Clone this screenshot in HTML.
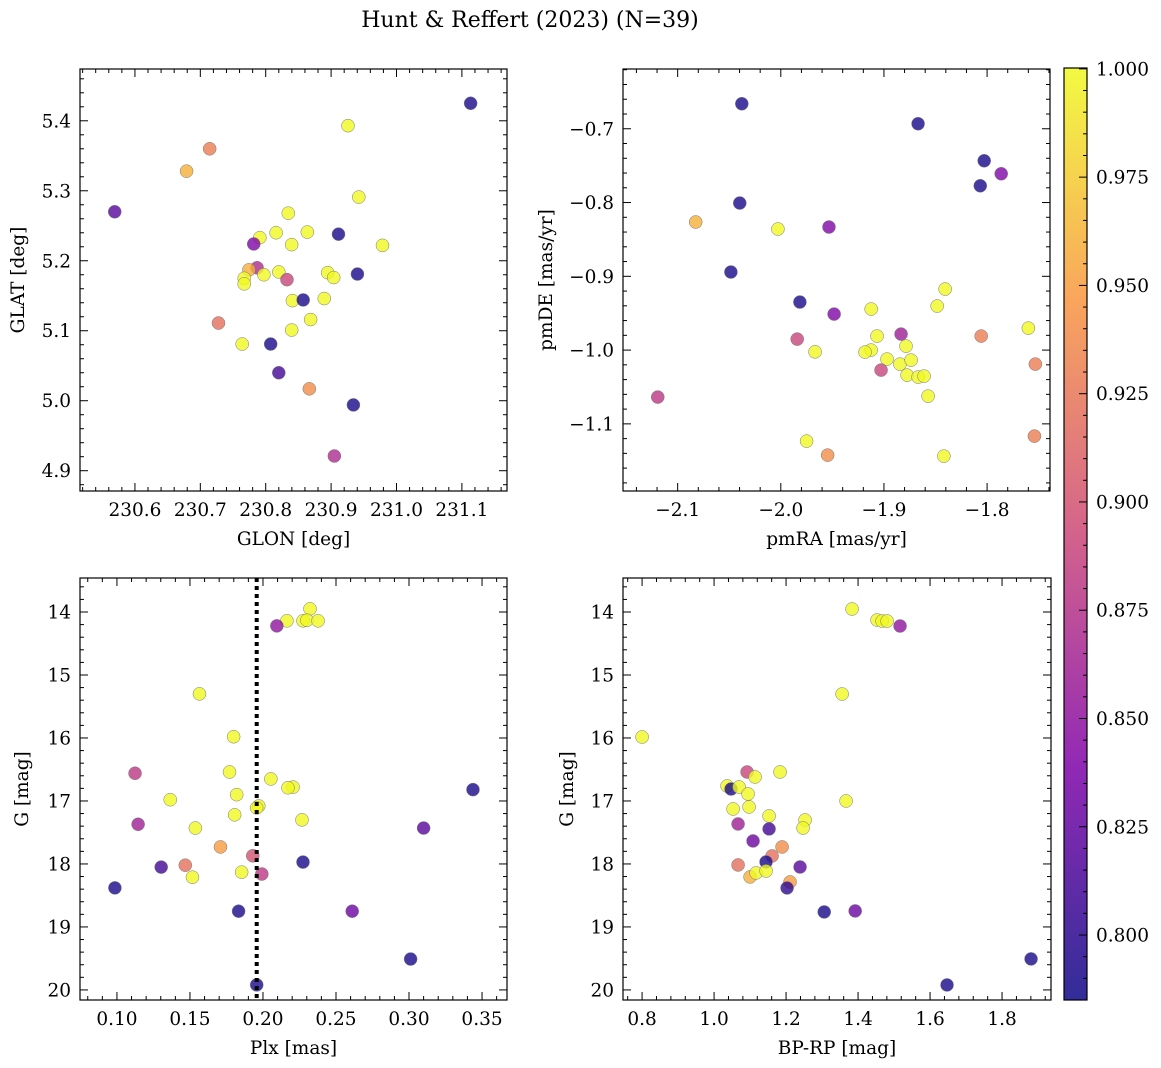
<!DOCTYPE html>
<html><head><meta charset="utf-8"><style>
body{margin:0;background:#fff;}
svg{display:block;font-family:"DejaVu Serif","Liberation Serif",serif;}
</style></head><body>
<svg id="c" width="1161" height="1068" xmlns="http://www.w3.org/2000/svg">
<defs><linearGradient id="plasma" x1="0" y1="1" x2="0" y2="0">
<stop offset="0" stop-color="#0d0887"/><stop offset="0.25" stop-color="#7e03a8"/><stop offset="0.5" stop-color="#cc4778"/><stop offset="0.75" stop-color="#f89540"/><stop offset="1" stop-color="#f0f921"/></linearGradient></defs>
<text x="530" y="27" font-size="22" text-anchor="middle">Hunt &amp; Reffert (2023) (N=39)</text>
</svg>
<script>
// Panel 1: GLON / GLAT
const p1x=[231.1134,230.5691,230.7143,230.679,230.9258,230.9424,230.9786,230.9113,230.9403,230.8345,230.8636,230.8159,230.791,230.7817,230.8397,230.7868,230.7744,230.7972,230.82,230.7671,230.7671,230.8325,230.8947,230.904,230.8408,230.8573,230.8895,230.8687,230.8397,230.7278,230.764,230.8076,230.82,230.8667,230.9341,230.905];
const p1y=[5.425,5.270,5.360,5.328,5.393,5.291,5.222,5.238,5.181,5.268,5.241,5.240,5.233,5.224,5.223,5.190,5.187,5.180,5.184,5.175,5.167,5.173,5.183,5.176,5.143,5.144,5.146,5.116,5.101,5.111,5.081,5.081,5.040,5.017,4.994,4.921];
const p1c=[0.79,0.82,0.93,0.96,1,1,1,0.79,0.79,1,1,1,1,0.84,1,0.87,0.96,1,1,1,1,0.89,1,1,1,0.79,1,1,1,0.92,1,0.79,0.81,0.94,0.79,0.87];
// Panel 2: pmRA / pmDE
const p2x=[-2.0378,-1.8669,-1.8028,-1.8066,-1.7863,-2.0398,-2.0825,-2.0028,-1.9533,-2.0484,-1.9815,-1.8407,-1.8484,-1.9124,-1.9668,-1.9483,-1.7600,-1.8057,-1.9841,-1.8834,-1.9067,-1.9125,-1.9183,-1.8786,-1.8970,-1.8845,-1.8737,-1.9028,-1.8776,-1.8669,-1.8611,-1.8572,-1.7532,-2.1193,-1.7541,-1.9750,-1.9546,-1.8419];
const p2y=[-0.6661,-0.6932,-0.7434,-0.7773,-0.7610,-0.8007,-0.8264,-0.8359,-0.8332,-0.8942,-0.9349,-0.9173,-0.9403,-0.9444,-1.0024,-0.9512,-0.9702,-0.9810,-0.9851,-0.9783,-0.9810,-1.0000,-1.0027,-0.9946,-1.0122,-1.0190,-1.0136,-1.0271,-1.0339,-1.0366,-1.0353,-1.0624,-1.0190,-1.0637,-1.1166,-1.1234,-1.1424,-1.1437];
const p2c=[0.79,0.79,0.79,0.79,0.84,0.79,0.96,1,0.84,0.79,0.79,1,1,1,1,0.84,1,0.93,0.89,0.86,1,1,1,1,1,1,1,0.89,1,1,1,1,0.93,0.88,0.93,1,0.94,1];
// Panel 3: Plx / G
const p3x=[0.2322,0.2164,0.2274,0.2301,0.2377,0.2095,0.1565,0.1799,0.1124,0.1771,0.2054,0.2206,0.2171,0.3438,0.1365,0.1820,0.1971,0.1806,0.1957,0.2267,0.1145,0.1537,0.3100,0.1709,0.1930,0.2274,0.1303,0.1468,0.1517,0.1854,0.1992,0.0986,0.1833,0.2611,0.3011,0.1957];
const p3y=[13.95,14.14,14.14,14.13,14.14,14.22,15.30,15.98,16.56,16.54,16.65,16.78,16.79,16.82,16.98,16.90,17.08,17.22,17.11,17.30,17.37,17.43,17.43,17.73,17.87,17.97,18.05,18.02,18.21,18.13,18.16,18.38,18.75,18.75,19.51,19.92];
const p3c=[1,1,1,1,1,0.85,1,1,0.88,1,1,1,1,0.79,1,1,1,1,1,1,0.86,1,0.82,0.95,0.9,0.79,0.81,0.92,1,1,0.88,0.79,0.79,0.83,0.79,0.79];
// Panel 4: BP-RP / G
const p4x=[1.0917,1.1139,1.1833,1.0361,1.0472,1.0694,1.0944,1.0972,1.0528,1.1528,1.2528,1.2472,1.0667,1.1528,1.1083,1.1889,1.1611,1.1444,1.2389,1.0667,1.1000,1.1167,1.1444,1.2111,1.2028,1.3060,1.3833,1.4528,1.4667,1.4806,1.5167,1.3556,0.8000,1.3667,1.3920,1.8806,1.6472];
const p4y=[16.540,16.619,16.540,16.762,16.810,16.778,16.889,17.095,17.127,17.238,17.302,17.429,17.365,17.444,17.635,17.730,17.873,17.968,18.048,18.016,18.206,18.143,18.111,18.286,18.381,18.762,13.952,14.127,14.143,14.143,14.222,15.302,15.984,17.000,18.746,19.508,19.921];
const p4c=[0.89,1,1,1,0.79,1,1,1,1,1,1,1,0.86,0.81,0.83,0.94,0.92,0.79,0.82,0.92,0.96,1,1,0.95,0.8,0.79,1,1,1,1,0.85,1,1,1,0.83,0.79,0.79];
const plxLine=0.1957;
const cbTicks=[0.800,0.825,0.850,0.875,0.900,0.925,0.950,0.975,1.000];

const NS="http://www.w3.org/2000/svg";
const svg=document.getElementById('c');
function mk(tag,attrs,parent){const e=document.createElementNS(NS,tag);for(const k in attrs)e.setAttribute(k,attrs[k]);(parent||svg).appendChild(e);return e;}
const stops=[[0,[13,8,135]],[0.25,[126,3,168]],[0.5,[204,71,120]],[0.75,[248,149,64]],[1,[240,249,33]]];
const cmin=0.785,cmax=1.0;
function cmap(v){let t=(v-cmin)/(cmax-cmin);t=Math.max(0,Math.min(1,t));for(let i=0;i<stops.length-1;i++){const a=stops[i],b=stops[i+1];if(t<=b[0]){const f=(t-a[0])/(b[0]-a[0]);return 'rgb('+a[1].map((c,j)=>Math.round(c+(b[1][j]-c)*f)).join(',')+')';}}return 'rgb(240,249,33)';}
function fmt(v,d){return (v<-1e-9?'\u2212':'')+Math.abs(v).toFixed(d);}
const FS=18.5;

function panel(o){
  const g=mk('g',{});
  
  
  const sx=v=>o.L+(v-o.x0)/(o.x1-o.x0)*(o.R-o.L);
  const sy=v=>o.T+(v-o.y0)/(o.y1-o.y0)*(o.B-o.T);
  for(let i=0;i<o.xs.length;i++){
    const c=mk('circle',{cx:sx(o.xs[i]),cy:sy(o.ys[i]),r:6.5,fill:cmap(o.cs[i]),'fill-opacity':0.8,stroke:'#777','stroke-width':0.5},g);
    
    
  }
  if(o.vline!==undefined){
    const l=mk('line',{x1:sx(o.vline),x2:sx(o.vline),y1:o.T,y2:o.B,stroke:'#000','stroke-width':4,'stroke-dasharray':'4,4'},g);
    
    
  }
  const fr=mk('rect',{x:o.L,y:o.T,width:o.R-o.L,height:o.B-o.T,fill:'none',stroke:'#000','stroke-width':1.2},g);
  
  
  const lo=Math.min(o.x0,o.x1),hi=Math.max(o.x0,o.x1);
  for(let k=Math.ceil(lo/o.xmin-1e-6);k*o.xmin<=hi+1e-9;k++){
    const v=k*o.xmin,X=sx(v);const maj=Math.abs(v/o.xmaj-Math.round(v/o.xmaj))<1e-6;const len=maj?8:4;
    mk('line',{x1:X,x2:X,y1:o.B,y2:o.B-len,stroke:'#000'},g);mk('line',{x1:X,x2:X,y1:o.T,y2:o.T+len,stroke:'#000'},g);
    if(maj){const t=mk('text',{x:X,y:o.B+25,'font-size':FS,'text-anchor':'middle'},g);t.textContent=fmt(v,o.xd);
      }
  }
  const ylo=Math.min(o.y0,o.y1),yhi=Math.max(o.y0,o.y1);
  for(let k=Math.ceil(ylo/o.ymin-1e-6);k*o.ymin<=yhi+1e-9;k++){
    const v=k*o.ymin,Y=sy(v);const maj=Math.abs(v/o.ymaj-Math.round(v/o.ymaj))<1e-6;const len=maj?8:4;
    mk('line',{x1:o.L,x2:o.L+len,y1:Y,y2:Y,stroke:'#000'},g);mk('line',{x1:o.R,x2:o.R-len,y1:Y,y2:Y,stroke:'#000'},g);
    if(maj){const t=mk('text',{x:o.L-9,y:Y+6.5,'font-size':FS,'text-anchor':'end'},g);t.textContent=fmt(v,o.yd);
      }
  }
  const xl=mk('text',{x:(o.L+o.R)/2,y:o.B+54,'font-size':FS,'text-anchor':'middle'},g);xl.textContent=o.xlab;
  
  const yl=mk('text',{x:0,y:0,'font-size':FS,'text-anchor':'middle',transform:'translate('+o.ylx+','+((o.T+o.B)/2)+') rotate(-90)'},g);yl.textContent=o.ylab;
  
}
panel({name:'glon-glat-panel',L:80,R:507,T:69,B:491,x0:230.516,x1:231.169,y0:5.474,y1:4.871,xs:p1x,ys:p1y,cs:p1c,xmaj:0.1,xmin:0.02,ymaj:0.1,ymin:0.02,xd:1,yd:1,xlab:'GLON [deg]',ylab:'GLAT [deg]',ylx:24});
panel({name:'proper-motion-panel',L:623,R:1050,T:69,B:491,x0:-2.153,x1:-1.739,y0:-0.619,y1:-1.191,xs:p2x,ys:p2y,cs:p2c,xmaj:0.1,xmin:0.02,ymaj:0.1,ymin:0.02,xd:1,yd:1,xlab:'pmRA [mas/yr]',ylab:'pmDE [mas/yr]',ylx:552});
panel({name:'parallax-magnitude-panel',L:80,R:507,T:578,B:1000,x0:0.0747,x1:0.3671,y0:13.46,y1:20.16,xs:p3x,ys:p3y,cs:p3c,xmaj:0.05,xmin:0.01,ymaj:1,ymin:0.2,xd:2,yd:0,xlab:'Plx [mas]',ylab:'G [mag]',ylx:28,vline:plxLine});
panel({name:'cmd-panel',L:623,R:1051,T:578,B:1000,x0:0.747,x1:1.936,y0:13.46,y1:20.16,xs:p4x,ys:p4y,cs:p4c,xmaj:0.2,xmin:0.04,ymaj:1,ymin:0.2,xd:1,yd:0,xlab:'BP-RP [mag]',ylab:'G [mag]',ylx:573});
const cb=mk('g',{});


const cT=68,cB=1000,cL=1064,cR=1087,cv0=1.0002,cv1=0.785;
mk('rect',{x:cL,y:cT,width:cR-cL,height:cB-cT,fill:'url(#plasma)','fill-opacity':0.85,stroke:'#000','stroke-width':1.2},cb);
const cy=v=>cT+(v-cv0)/(cv1-cv0)*(cB-cT);
for(let k=Math.ceil(0.785/0.005);k*0.005<=1.0001;k++){const v=k*0.005,Y=cy(v);const maj=Math.abs(v/0.025-Math.round(v/0.025))<1e-6;
  mk('line',{x1:cR,x2:cR-(maj?8:4),y1:Y,y2:Y,stroke:'#000'},cb);}
cbTicks.forEach(v=>{const t=mk('text',{x:1096,y:cy(v)+6.5,'font-size':FS},cb);t.textContent=v.toFixed(3);
  });
</script>
</body></html>
